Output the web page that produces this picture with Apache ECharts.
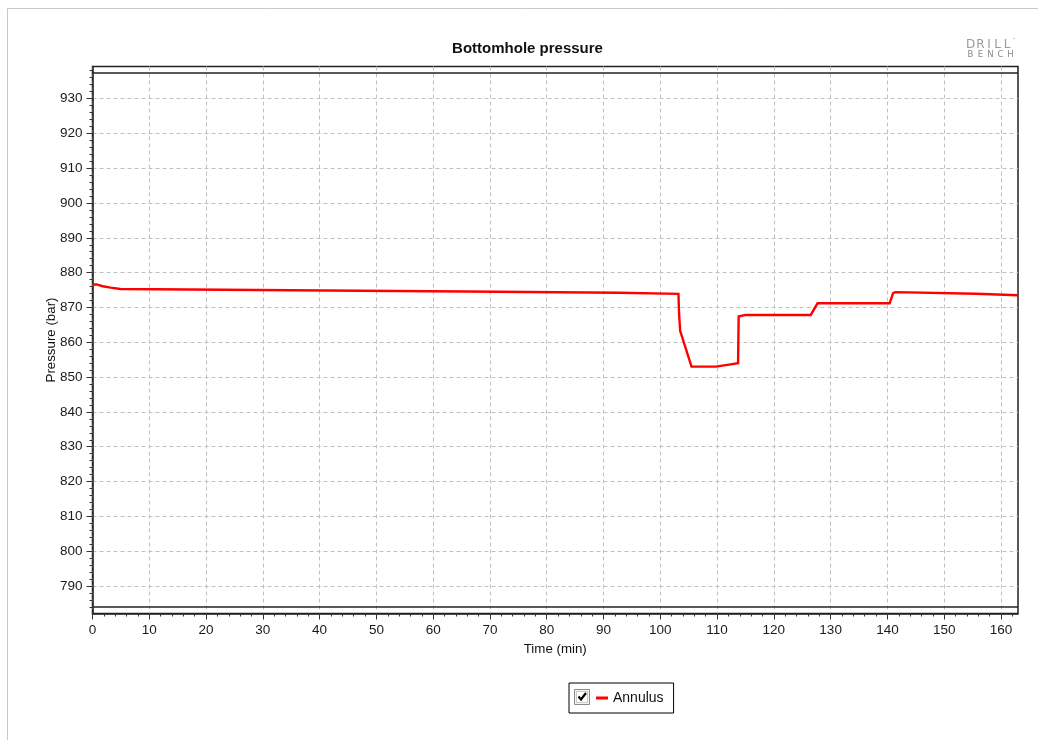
<!DOCTYPE html>
<html>
<head>
<meta charset="utf-8">
<script src="https://cdn.jsdelivr.net/npm/echarts@6/dist/echarts.min.js"></script>
<style>
html,body{margin:0;padding:0;background:#fff;}
#chart{width:1038px;height:740px;}
</style>
</head>
<body>
<div id="chart"></div>
<script>
// ---- data ----
var timeMin = [0, 0.7, 0.7, 1.8, 1.8, 3.2, 3.2, 4.9, 4.9, 35.1, 35.1, 65.6, 65.6, 92.8, 92.8,
  103.2, 103.3, 103.5, 105.5, 109.8, 109.9, 111.8, 111.9, 113.7, 113.8, 115.0, 126.5, 127.7,
  140.4, 141.0, 141.4, 141.7, 155.6, 155.7, 163.0];
var annulusBar = [876.6, 876.6, 876.1, 876.1, 875.7, 875.7, 875.3, 875.3, 874.95, 874.95, 874.6, 874.6, 874.2, 874.2, 873.9,
  873.9, 868.5, 863.3, 853.0, 853.0, 853.5, 853.5, 854.0, 854.0, 867.4, 867.85, 867.85, 871.2,
  871.2, 874.1, 874.4, 873.95, 873.95, 873.5, 873.5];
var limitLines = [937.4, 784.0];

var xMajorTicks = [0, 10, 20, 30, 40, 50, 60, 70, 80, 90, 100, 110, 120, 130, 140, 150, 160];
var yMajorTicks = [790, 800, 810, 820, 830, 840, 850, 860, 870, 880, 890, 900, 910, 920, 930];
var xRange = [0, 163];
var yRange = [782.1, 939.2];

var xMinorTicks = [];
for (var a = 2; a <= 162; a += 2) { if (a % 10 !== 0) xMinorTicks.push(a); }
var yMinorTicks = [];
for (var b = 784; b <= 938; b += 2) { if (b % 10 !== 0) yMinorTicks.push(b); }

var FONT = 'Liberation Sans, Arial, sans-serif';
var seriesData = timeMin.map(function (t, i) { return [t, annulusBar[i]]; });

var chart = echarts.init(document.getElementById('chart'));
var tickStyle = { color: '#333', width: 1 };

chart.setOption({
  animation: false,
  backgroundColor: '#ffffff',
  grid: {
    left: 92.5, right: 20, top: 66.5, bottom: 126.5,
    show: true, borderColor: '#222', borderWidth: 1.5, backgroundColor: 'transparent'
  },
  legend: {
    data: ['Annulus'],
    selectedMode: false,
    left: 569, top: 683,
    icon: 'rect', itemWidth: 12, itemHeight: 3,
    padding: [8, 10, 8, 27],
    borderColor: '#000', borderWidth: 1,
    textStyle: { fontFamily: FONT, fontSize: 14, color: '#111' }
  },
  xAxis: [{
    type: 'value', min: xRange[0], max: xRange[1], position: 'bottom',
    name: 'Time (min)', nameLocation: 'middle', nameGap: 29, nameMoveOverlap: false,
    nameTextStyle: { fontFamily: FONT, fontSize: 13.3, color: '#111' },
    axisLine: { show: true, onZero: false, lineStyle: { color: '#222', width: 1.5 } },
    axisTick: { show: true, length: 6, customValues: xMajorTicks, lineStyle: tickStyle },
    axisLabel: { customValues: xMajorTicks, fontFamily: FONT, fontSize: 13.5, color: '#1a1a1a', margin: 10 },
    splitLine: { show: true, lineStyle: { type: [4, 3], color: '#c0c0c0', width: 1 } }
  }, {
    type: 'value', min: xRange[0], max: xRange[1], position: 'bottom',
    axisLine: { show: false, onZero: false },
    axisTick: { show: true, length: 3, customValues: xMinorTicks, lineStyle: tickStyle },
    axisLabel: { show: false },
    splitLine: { show: false }
  }],
  yAxis: [{
    type: 'value', min: yRange[0], max: yRange[1], position: 'left',
    name: 'Pressure (bar)', nameLocation: 'middle', nameGap: 35, nameRotate: 90, nameMoveOverlap: false,
    nameTextStyle: { fontFamily: FONT, fontSize: 13.3, color: '#111' },
    axisLine: { show: true, onZero: false, lineStyle: { color: '#222', width: 1.5 } },
    axisTick: { show: true, length: 6, customValues: yMajorTicks, lineStyle: tickStyle },
    axisLabel: { customValues: yMajorTicks, fontFamily: FONT, fontSize: 13.5, color: '#1a1a1a', margin: 10 },
    splitLine: { show: true, lineStyle: { type: [4, 3], color: '#c0c0c0', width: 1 } }
  }, {
    type: 'value', min: yRange[0], max: yRange[1], position: 'left',
    axisLine: { show: false, onZero: false },
    axisTick: { show: true, length: 3, customValues: yMinorTicks, lineStyle: tickStyle },
    axisLabel: { show: false },
    splitLine: { show: false }
  }],
  series: [{
    name: 'Annulus',
    type: 'line',
    xAxisIndex: 0, yAxisIndex: 0,
    data: seriesData,
    showSymbol: false,
    symbol: 'none',
    lineStyle: { color: '#ff0000', width: 2.4, join: 'miter' },
    itemStyle: { color: '#ff0000' },
    z: 3,
    markLine: {
      silent: true,
      symbol: 'none',
      label: { show: false },
      lineStyle: { type: 'solid', color: '#222', width: 1.5 },
      data: limitLines.map(function (v) { return { yAxis: v }; })
    }
  }],
  graphic: [
    { type: 'rect', silent: true, z: -1, shape: { x: 7.5, y: 8.5, width: 1100, height: 800 },
      style: { fill: 'none', stroke: '#c8c8c8', lineWidth: 1 } },
    { type: 'text', silent: true, x: 527.5, y: 48.5,
      style: { text: 'Bottomhole pressure', fontFamily: FONT, fontSize: 15, fontWeight: 'bold',
        fill: '#111', align: 'center', verticalAlign: 'middle' } },
    // DRILLBENCH logo
    { type: 'group', silent: true, children: [
      { type: 'text', x: 970.5, y: 44.5, style: { text: 'D', fontFamily: 'DejaVu Sans', fontSize: 12, fill: '#9a9a9a', align: 'center', verticalAlign: 'middle' } },
      { type: 'text', x: 980.5, y: 44.5, style: { text: 'R', fontFamily: 'DejaVu Sans', fontSize: 12, fill: '#9a9a9a', align: 'center', verticalAlign: 'middle' } },
      { type: 'text', x: 989, y: 44.5, style: { text: 'I', fontFamily: 'DejaVu Sans', fontSize: 12, fill: '#9a9a9a', align: 'center', verticalAlign: 'middle' } },
      { type: 'text', x: 997.5, y: 44.5, style: { text: 'L', fontFamily: 'DejaVu Sans', fontSize: 12, fill: '#9a9a9a', align: 'center', verticalAlign: 'middle' } },
      { type: 'text', x: 1007, y: 44.5, style: { text: 'L', fontFamily: 'DejaVu Sans', fontSize: 12, fill: '#9a9a9a', align: 'center', verticalAlign: 'middle' } },
      { type: 'text', x: 1014, y: 40, style: { text: '\u00b7', fontFamily: 'DejaVu Sans', fontSize: 8, fill: '#9a9a9a', align: 'center', verticalAlign: 'middle' } },
      { type: 'text', x: 970.5, y: 55, style: { text: 'B', fontFamily: 'DejaVu Sans', fontSize: 8.5, fill: '#8a8a8a', align: 'center', verticalAlign: 'middle' } },
      { type: 'text', x: 980.5, y: 55, style: { text: 'E', fontFamily: 'DejaVu Sans', fontSize: 8.5, fill: '#8a8a8a', align: 'center', verticalAlign: 'middle' } },
      { type: 'text', x: 990.5, y: 55, style: { text: 'N', fontFamily: 'DejaVu Sans', fontSize: 8.5, fill: '#8a8a8a', align: 'center', verticalAlign: 'middle' } },
      { type: 'text', x: 1000.5, y: 55, style: { text: 'C', fontFamily: 'DejaVu Sans', fontSize: 8.5, fill: '#8a8a8a', align: 'center', verticalAlign: 'middle' } },
      { type: 'text', x: 1010.5, y: 55, style: { text: 'H', fontFamily: 'DejaVu Sans', fontSize: 8.5, fill: '#8a8a8a', align: 'center', verticalAlign: 'middle' } }
    ]},
    // legend checkbox
    { type: 'group', silent: true, z: 100, children: [
      { type: 'rect', shape: { x: 574.5, y: 689.5, width: 15, height: 15 },
        style: { fill: '#f4f4f0', stroke: '#8a8a8a', lineWidth: 1 } },
      { type: 'rect', shape: { x: 576.5, y: 691.5, width: 11, height: 11 },
        style: { fill: '#ffffff', stroke: '#c8c8c0', lineWidth: 1 } },
      { type: 'polyline', shape: { points: [[578.5, 696.5], [581, 699.5], [586, 693]] },
        style: { stroke: '#000', lineWidth: 2.2, fill: 'none' } }
    ]}
  ]
});
</script>
</body>
</html>
